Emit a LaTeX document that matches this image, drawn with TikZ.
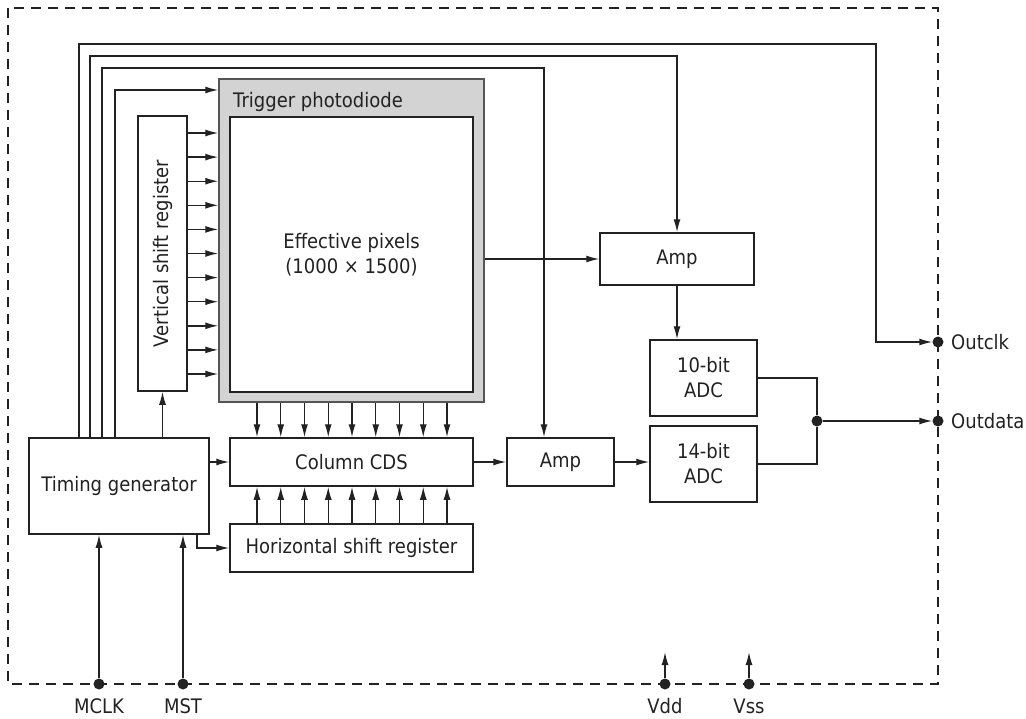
\documentclass[tikz,border=0pt]{standalone}
\usepackage{fontspec}
\usepackage{graphicx}
\setmainfont{DejaVu Sans}[FakeStretch=0.9]
\usetikzlibrary{arrows.meta}
\definecolor{ink}{HTML}{222222}
\definecolor{pdgray}{HTML}{D3D3D3}
\definecolor{pdedge}{HTML}{555555}
\begin{document}
\begin{tikzpicture}[x=1pt,y=-1pt,
  font=\fontsize{20}{25}\selectfont,
  box/.style={draw=ink, line width=1.5pt, fill=white, inner sep=0pt, text=ink, align=center},
  conn/.style={draw=ink, line width=1.4pt},
  arr/.style={conn, -{Latex[length=13pt,width=7pt]}},
  pin/.style={circle, fill=ink, inner sep=0pt, minimum size=11pt},
  lbl/.style={text=ink, inner sep=0pt}]
\useasboundingbox (0,0) rectangle (1026,718);

% chip outline
\draw[ink, line width=2.2pt, dash pattern=on 10pt off 7pt] (8,8) rectangle (938,684);

% blocks
\node[box, minimum width=180pt, minimum height=96pt] (tg) at (119,486) {Timing generator};
\node[box, minimum width=49pt, minimum height=275pt] (vsr) at (162.5,253.5) {\rotatebox{90}{Vertical shift register}};
\node[draw=pdedge, fill=pdgray, line width=1.5pt, minimum width=265pt, minimum height=323pt, inner sep=0pt] (trig) at (351.5,240.5) {};
\node[lbl, anchor=base west] (trigl) at (233,107) {Trigger photodiode};
\node[box, minimum width=243pt, minimum height=275pt] (pix) at (351.5,254.5) {Effective pixels\\(1000 × 1500)};
\node[box, minimum width=243pt, minimum height=48pt] (cds) at (351.5,462) {Column CDS};
\node[box, minimum width=243pt, minimum height=48pt] (hsr) at (351.5,548) {Horizontal shift register};
\node[box, minimum width=107pt, minimum height=48pt] (amp2) at (560.5,462) {Amp};
\node[box, minimum width=154pt, minimum height=52pt] (amp1) at (677,259) {Amp};
\node[box, minimum width=107pt, minimum height=76pt] (adc10) at (703.5,378) {10-bit\\ADC};
\node[box, minimum width=107pt, minimum height=76pt] (adc14) at (703.5,464) {14-bit\\ADC};

% pins
\node[pin] (outclk) at (938,342) {};
\node[pin] (outdata) at (938,421) {};
\node[pin] (jn) at (817,421) {};
\node[pin] (mclk) at (99,684) {};
\node[pin] (mst) at (183,684) {};
\node[pin] (vdd) at (665,684) {};
\node[pin] (vss) at (749,684) {};
\node[lbl, anchor=west] (outclkl) at (951,342) {Outclk};
\node[lbl, anchor=west] (outdatal) at (951,421) {Outdata};
\node[lbl] (mclkl) at (99,706) {MCLK};
\node[lbl] (mstl) at (183,706) {MST};
\node[lbl] (vddl) at (665,706) {Vdd};
\node[lbl] (vssl) at (749,706) {Vss};

% timing generator control lines
\coordinate (t1) at (79,44);  \coordinate (t1b) at (876,44);
\coordinate (t2) at (90,56);
\coordinate (t3) at (102,68); \coordinate (t3b) at (544,68);
\coordinate (t4) at (115,90);
\draw[arr] (t1 |- tg.north) -- (t1) -- (t1b) -- (t1b |- outclk) -- (outclk);
\draw[arr] (t2 |- tg.north) -- (t2) -- (amp1.north |- t2) -- (amp1.north);
\draw[arr] (t3 |- tg.north) -- (t3) -- (t3b) -- (t3b |- amp2.north);
\draw[arr] (t4 |- tg.north) -- (t4) -- (trig.west |- t4);
\draw[arr] (tg.north -| vsr.south) -- (vsr.south);
\draw[arr] (tg.east |- cds.west) -- (cds.west);
\coordinate (h1) at (197,600);
\draw[arr] (tg.south -| h1) |- (hsr.west);

% row select arrows
\foreach \i in {0,...,10} {
  \coordinate (r\i) at (0,{133+24.1*\i});
  \draw[arr] (vsr.east |- r\i) -- (trig.west |- r\i);
}
% column arrows
\foreach \i in {0,...,8} {
  \coordinate (c\i) at ({257+23.75*\i},0);
  \draw[arr] (trig.south -| c\i) -- (cds.north -| c\i);
  \draw[arr] (hsr.north -| c\i) -- (cds.south -| c\i);
}

% signal path
\draw[arr] (trig.east |- amp1.west) -- (amp1.west);
\draw[arr] (cds.east) -- (amp2.west);
\draw[arr] (amp1.south) -- (amp1.south |- adc10.north);
\draw[arr] (amp2.east) -- (amp2.east -| adc14.west);
\draw[conn] (adc10.east) -| (jn);
\draw[conn] (adc14.east) -| (jn);
\draw[arr] (jn) -- (outdata);

% external inputs
\draw[arr] (mclk) -- (mclk |- tg.south);
\draw[arr] (mst) -- (mst |- tg.south);
\coordinate (vddt) at (665,652);
\coordinate (vsst) at (749,652);
\draw[arr] (vdd) -- (vddt);
\draw[arr] (vss) -- (vsst);
\end{tikzpicture}
\end{document}
